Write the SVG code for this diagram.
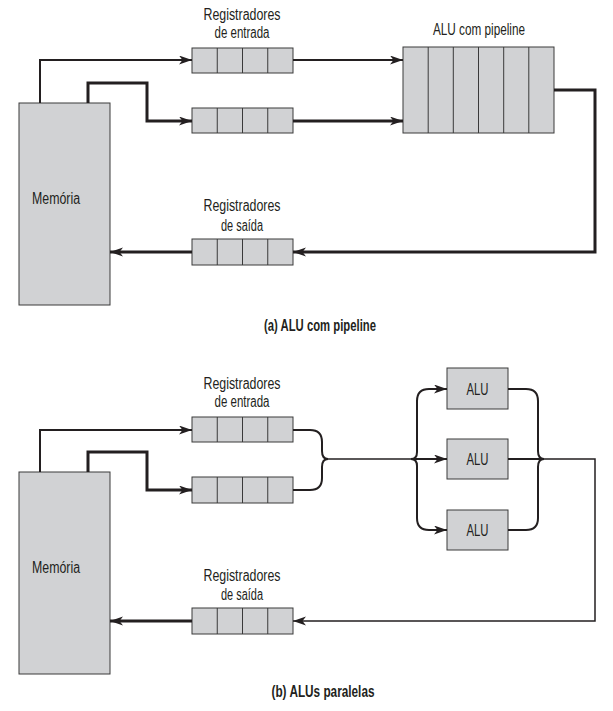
<svg xmlns="http://www.w3.org/2000/svg" width="613" height="711" viewBox="0 0 613 711">
<style>
.box{fill:#d1d2d4;stroke:#3a3a3a;stroke-width:1}
.div{stroke:#3a3a3a;stroke-width:1}
.t{font-family:"Liberation Sans",Arial,sans-serif;font-size:16px;fill:#231f20;text-anchor:middle}
.cap{font-family:"Liberation Sans",Arial,sans-serif;font-size:16px;font-weight:bold;fill:#231f20;text-anchor:middle}
.w2{fill:none;stroke:#231f20;stroke-width:2}
.w3{fill:none;stroke:#231f20;stroke-width:3}
.w15{fill:none;stroke:#231f20;stroke-width:1.5}
</style>
<defs>
<marker id="ah" markerUnits="userSpaceOnUse" markerWidth="15" markerHeight="10" refX="13" refY="4.5" orient="auto">
<path d="M0,0 L13,4.5 L0,9 L3.5,4.5 Z" fill="#231f20"/>
</marker>
</defs>
<rect width="613" height="711" fill="#ffffff"/>

<!-- Part (a) -->
<g id="a-memoria">
<rect class="box" x="19" y="103" width="91" height="202"/>
<text class="t" x="56" y="204" textLength="48" lengthAdjust="spacingAndGlyphs">Memória</text>
</g>
<g id="a-reg-entrada-label">
<text class="t" x="242" y="20" textLength="77" lengthAdjust="spacingAndGlyphs">Registradores</text>
<text class="t" x="242" y="38" textLength="55" lengthAdjust="spacingAndGlyphs">de entrada</text>
</g>
<g id="a-reg-in1">
<rect class="box" x="192" y="48" width="101" height="25"/>
<path class="div" d="M217.25,48V73M242.5,48V73M267.75,48V73"/>
</g>
<g id="a-reg-in2">
<rect class="box" x="192" y="108" width="101" height="25"/>
<path class="div" d="M217.25,108V133M242.5,108V133M267.75,108V133"/>
</g>
<g id="a-alu-pipeline">
<text class="t" x="479" y="35" textLength="92" lengthAdjust="spacingAndGlyphs">ALU com pipeline</text>
<rect class="box" x="403" y="47" width="151" height="86"/>
<path class="div" d="M428.2,47V133M453.3,47V133M478.5,47V133M503.7,47V133M528.8,47V133"/>
</g>
<g id="a-reg-saida">
<text class="t" x="242" y="211" textLength="77" lengthAdjust="spacingAndGlyphs">Registradores</text>
<text class="t" x="242" y="231" textLength="42" lengthAdjust="spacingAndGlyphs">de saída</text>
<rect class="box" x="192" y="239" width="101" height="26"/>
<path class="div" d="M217.25,239V265M242.5,239V265M267.75,239V265"/>
</g>
<text class="cap" x="320" y="331" textLength="112" lengthAdjust="spacingAndGlyphs">(a) ALU com pipeline</text>

<!-- Part (b) -->
<g id="b-memoria">
<rect class="box" x="19" y="472" width="91" height="202"/>
<text class="t" x="56" y="573" textLength="48" lengthAdjust="spacingAndGlyphs">Memória</text>
</g>
<g id="b-reg-entrada-label">
<text class="t" x="242" y="389" textLength="77" lengthAdjust="spacingAndGlyphs">Registradores</text>
<text class="t" x="242" y="407" textLength="55" lengthAdjust="spacingAndGlyphs">de entrada</text>
</g>
<g id="b-reg-in1">
<rect class="box" x="192" y="417" width="101" height="25"/>
<path class="div" d="M217.25,417V442M242.5,417V442M267.75,417V442"/>
</g>
<g id="b-reg-in2">
<rect class="box" x="192" y="477" width="101" height="26"/>
<path class="div" d="M217.25,477V503M242.5,477V503M267.75,477V503"/>
</g>
<g id="b-alu1">
<rect class="box" x="447" y="368" width="61" height="41"/>
<text class="t" x="477.5" y="394.5" textLength="22" lengthAdjust="spacingAndGlyphs">ALU</text>
</g>
<g id="b-alu2">
<rect class="box" x="447" y="439" width="61" height="40"/>
<text class="t" x="477.5" y="465" textLength="22" lengthAdjust="spacingAndGlyphs">ALU</text>
</g>
<g id="b-alu3">
<rect class="box" x="447" y="510" width="61" height="40"/>
<text class="t" x="477.5" y="536" textLength="22" lengthAdjust="spacingAndGlyphs">ALU</text>
</g>
<g id="b-reg-saida">
<text class="t" x="242" y="581" textLength="77" lengthAdjust="spacingAndGlyphs">Registradores</text>
<text class="t" x="242" y="600" textLength="42" lengthAdjust="spacingAndGlyphs">de saída</text>
<rect class="box" x="192" y="608" width="101" height="26"/>
<path class="div" d="M217.25,608V634M242.5,608V634M267.75,608V634"/>
</g>
<text class="cap" x="323" y="697" textLength="103" lengthAdjust="spacingAndGlyphs">(b) ALUs paralelas</text>

<g id="connectors">
<!-- (a) -->
<path class="w2" d="M40,103V60H192" marker-end="url(#ah)"/>
<path class="w3" d="M88,103V83H147V121H192" marker-end="url(#ah)"/>
<path class="w2" d="M293,60H403" marker-end="url(#ah)"/>
<path class="w3" d="M293,121H403" marker-end="url(#ah)"/>
<path class="w3" d="M554,90H595V252H293" marker-end="url(#ah)"/>
<path class="w3" d="M192,252H110" marker-end="url(#ah)"/>
<!-- (b) -->
<path class="w2" d="M40,472V430H192" marker-end="url(#ah)"/>
<path class="w3" d="M88,472V452H147V490H192" marker-end="url(#ah)"/>
<path class="w2" d="M293,430H310Q322,430 322,442V451Q322,459 328,459"/>
<path class="w2" d="M293,490H310Q322,490 322,478V467Q322,459 328,459"/>
<path class="w15" d="M328,459H412"/>
<path class="w2" d="M411,459Q417,459 417,452V401Q417,389 429,389H447" marker-end="url(#ah)"/>
<path class="w2" d="M411,459Q417,459 417,466V518Q417,530 429,530H447" marker-end="url(#ah)"/>
<path class="w2" d="M411,459H447" marker-end="url(#ah)"/>
<path class="w2" d="M508,389H526Q538,389 538,401V451Q538,459 544,459"/>
<path class="w2" d="M508,530H526Q538,530 538,518V467Q538,459 544,459"/>
<path class="w2" d="M508,459H544"/>
<path class="w15" d="M543,459H595V621H293" marker-end="url(#ah)"/>
<path class="w3" d="M192,621H110" marker-end="url(#ah)"/>
</g>
</svg>
